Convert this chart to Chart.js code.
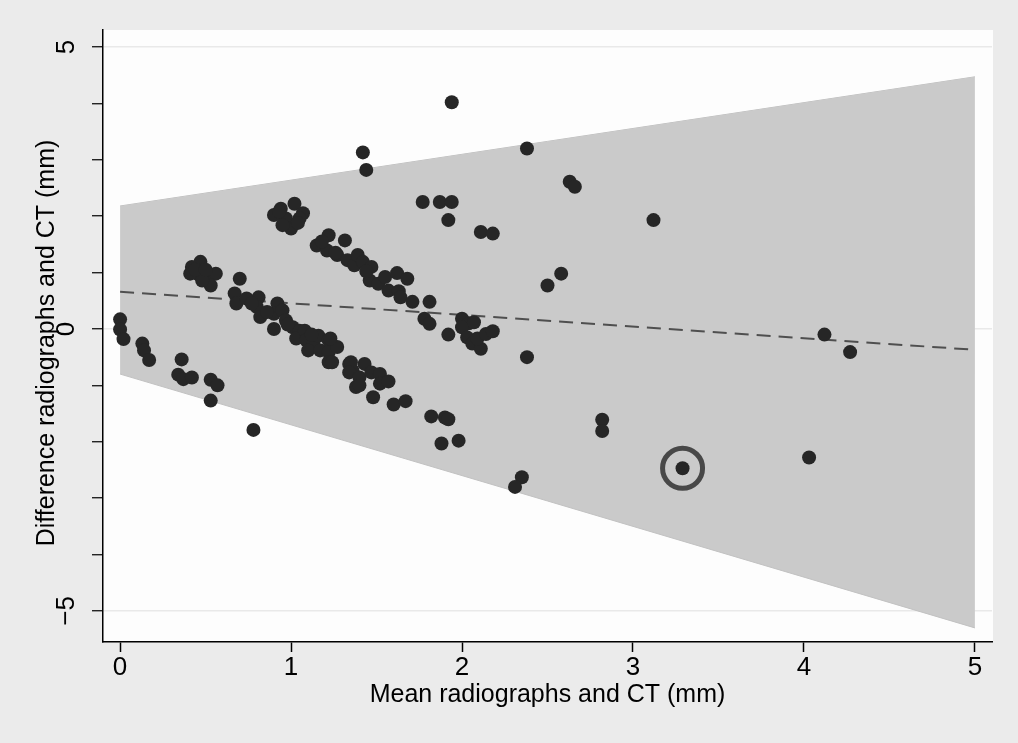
<!DOCTYPE html>
<html>
<head>
<meta charset="utf-8">
<script src="https://cdn.jsdelivr.net/npm/chart.js@4.4.1/dist/chart.umd.min.js"></script>
<style>
  html, body { margin: 0; padding: 0; background: #ebebeb; }
  #wrap { width: 1018px; height: 743px; }
</style>
</head>
<body>
<div id="wrap"><canvas id="g-blandaltman" width="1018" height="743"></canvas></div>
<script>
// mean of the two methods (x) and their difference (y), mm
var meanVals = [
  0.00, 0.00, 0.02, 0.13, 0.14, 0.17, 0.36, 0.34, 0.37, 0.42, 0.53, 0.57, 0.53, 0.78,
  0.42, 0.47, 0.45, 0.51, 0.56, 0.53, 0.48, 0.41, 0.44, 0.50,
  0.70, 0.67, 0.68, 0.74, 0.81, 0.80, 0.82, 0.92, 0.90, 0.95, 0.90, 0.97, 1.01, 1.05, 1.03, 1.08,
  1.09, 1.13, 1.16, 1.10, 1.17, 1.22, 1.22, 1.27, 1.22, 1.34, 1.36, 1.38, 0.86, 0.77, 0.98, 1.12,
  0.94, 1.02, 0.90, 0.97, 1.07, 1.00, 0.95, 1.05, 0.93, 1.04,
  1.22, 1.15, 1.21, 1.27, 1.33, 1.37, 1.315, 1.26, 1.39, 1.42, 1.47, 1.46, 1.51, 1.55, 1.62, 1.68,
  1.57, 1.63, 1.64, 1.71, 1.81, 1.78, 1.81, 1.92, 2.00, 2.04, 2.00, 2.07, 2.03, 2.06, 2.11, 2.09,
  2.14, 2.18, 1.18, 1.44,
  1.94, 1.42, 1.44, 2.38, 2.63, 2.66, 1.77, 1.87, 1.94, 1.92, 2.11, 2.18, 2.58, 2.50, 3.12,
  1.23, 1.24, 1.35, 1.34, 1.43, 1.40, 1.40, 1.47, 1.52, 1.52, 1.57, 1.48, 1.60, 1.67,
  1.82, 1.90, 1.92, 1.88, 1.98, 2.35, 2.31, 2.38, 2.82, 2.82, 3.29, 4.03, 4.12, 4.27
];
var diffVals = [
  0.17, -0.01, -0.18, -0.26, -0.38, -0.55, -0.54, -0.81, -0.89, -0.86, -0.90, -1.00, -1.27, -1.79,
  1.10, 1.19, 0.98, 0.92, 0.98, 0.77, 0.86, 0.98, 1.05, 1.05,
  0.89, 0.63, 0.45, 0.54, 0.56, 0.39, 0.21, 0.45, 0.27, 0.33, 0.00, 0.15, 0.03, -0.03, -0.17, -0.03,
  -0.20, -0.26, -0.12, -0.38, -0.38, -0.20, -0.41, -0.32, -0.59, -0.62, -0.74, -1.03, 0.30, 0.45, 0.08, -0.10,
  2.13, 2.22, 2.02, 1.96, 2.05, 1.78, 1.84, 1.96, 2.08, 1.88,
  1.66, 1.48, 1.39, 1.31, 1.22, 1.13, 1.57, 1.35, 1.31, 1.19, 1.10, 0.86, 0.80, 0.92, 0.99, 0.89,
  0.68, 0.67, 0.56, 0.48, 0.48, 0.18, 0.09, -0.10, 0.18, 0.10, 0.03, 0.12, -0.15, -0.26, -0.35, -0.17,
  -0.09, -0.04, 1.55, 1.02,
  4.02, 3.13, 2.82, 3.20, 2.61, 2.52, 2.25, 2.25, 2.25, 1.93, 1.72, 1.69, 0.98, 0.77, 1.93,
  -0.17, -0.59, -0.59, -0.77, -0.62, -0.86, -1.00, -0.77, -0.80, -0.97, -0.93, -1.21, -1.34, -1.28,
  -1.55, -1.57, -1.60, -2.03, -1.98, -2.63, -2.80, -0.50, -1.61, -1.81, -2.47, -2.28, -0.10, -0.41
];

// limits of agreement (regression based) and fitted bias line
var bandX    = [0, 5];
var upperLoA = [2.18, 4.47];
var lowerLoA = [-0.80, -5.30];
var biasLine = [0.66, -0.37];

// highlighted case
var markedX = [3.29];
var markedY = [-2.47];

var xTicks = [0, 1, 2, 3, 4, 5];
var yTickLabels = [-5, 0, 5];
var yTitle = 'Difference radiographs and CT (mm)';

function pts(xs, ys) {
  return xs.map(function (x, i) { return { x: x, y: ys[i] }; });
}

var fuente = '"Liberation Sans", Arial, sans-serif';

var fondo = {
  id: 'fondo',
  beforeDraw: function (chart) {
    var c = chart.ctx, a = chart.chartArea;
    c.save();
    c.fillStyle = '#ebebeb';
    c.fillRect(0, 0, chart.width, chart.height);
    c.fillStyle = '#fdfdfd';
    c.fillRect(a.left, a.top, a.right - a.left + 1, a.bottom - a.top);
    c.restore();
  },
  afterDraw: function (chart) {
    // vertical y tick labels and y title, as in the original
    var c = chart.ctx, sy = chart.scales.y;
    c.save();
    c.fillStyle = '#000';
    c.textAlign = 'center';
    c.textBaseline = 'middle';
    c.font = '26px ' + fuente;
    yTickLabels.forEach(function (v) {
      var py = sy.getPixelForValue(v);
      c.save();
      c.translate(67, py);
      c.rotate(-Math.PI / 2);
      c.fillText(v < 0 ? '\u2212' + Math.abs(v) : String(v), 0, 0);
      c.restore();
    });
    c.font = '25px ' + fuente;
    c.translate(47, 343);
    c.rotate(-Math.PI / 2);
    c.fillText(yTitle, 0, 0);
    c.restore();
  }
};

var idhtml = document.getElementById('g-blandaltman').getContext('2d');
var g_ba = new Chart(idhtml, {
  type: 'scatter',
  data: {
    datasets: [{
      label: 'upper',
      data: pts(bandX, upperLoA),
      showLine: true,
      pointRadius: 0,
      borderColor: '#bdbdbd',
      borderWidth: 1,
      fill: false,
      order: 4
    }, {
      label: 'lower',
      data: pts(bandX, lowerLoA),
      showLine: true,
      pointRadius: 0,
      borderColor: '#c2c2c2',
      borderWidth: 1,
      backgroundColor: '#cacaca',
      fill: '-1',
      order: 3
    }, {
      label: 'bias',
      data: pts(bandX, biasLine),
      showLine: true,
      pointRadius: 0,
      borderColor: '#4f4f4f',
      borderWidth: 2,
      borderDash: [14, 8],
      order: 2
    }, {
      label: 'difference',
      data: pts(meanVals, diffVals),
      pointRadius: 7,
      pointBorderWidth: 0,
      backgroundColor: '#262626',
      order: 1
    }, {
      label: 'marked',
      data: pts(markedX, markedY),
      pointRadius: 20,
      pointBorderWidth: 5,
      pointBorderColor: '#484848',
      backgroundColor: 'rgba(0,0,0,0)',
      order: 0
    }]
  },
  options: {
    responsive: false,
    animation: false,
    layout: { padding: { top: 30, right: 26, bottom: 0, left: 0 } },
    plugins: { legend: { display: false }, tooltip: { enabled: false } },
    scales: {
      x: {
        type: 'linear',
        min: -0.1,
        max: 5.1,
        afterFit: function (s) { s.height = 101; },
        afterBuildTicks: function (s) { s.ticks = xTicks.map(function (v) { return { value: v }; }); },
        border: { color: '#000', width: 1.5 },
        grid: { drawOnChartArea: false, drawTicks: true, tickLength: 10, tickColor: '#000', tickWidth: 1.5 },
        ticks: {
          padding: 0,
          color: '#000',
          font: { family: fuente, size: 26 },
          maxRotation: 0
        },
        title: {
          display: true,
          text: 'Mean radiographs and CT (mm)',
          color: '#000',
          font: { family: fuente, size: 25 },
          padding: { top: 0, bottom: 33 }
        }
      },
      y: {
        type: 'linear',
        min: -5.55,
        max: 5.3,
        afterFit: function (s) { s.width = 103; },
        afterBuildTicks: function (s) {
          var t = [];
          for (var v = -5; v <= 5; v++) t.push({ value: v });
          s.ticks = t;
        },
        border: { color: '#000', width: 1.5 },
        grid: {
          drawTicks: true,
          tickLength: 11,
          tickColor: '#000',
          tickWidth: 1.2,
          lineWidth: 1.5,
          color: function (ctx) {
            return (ctx.tick && yTickLabels.indexOf(ctx.tick.value) >= 0) ? '#e9e9e9' : 'rgba(0,0,0,0)';
          }
        },
        ticks: { display: false },
        title: { display: false }
      }
    }
  },
  plugins: [fondo]
});
</script>
</body>
</html>
